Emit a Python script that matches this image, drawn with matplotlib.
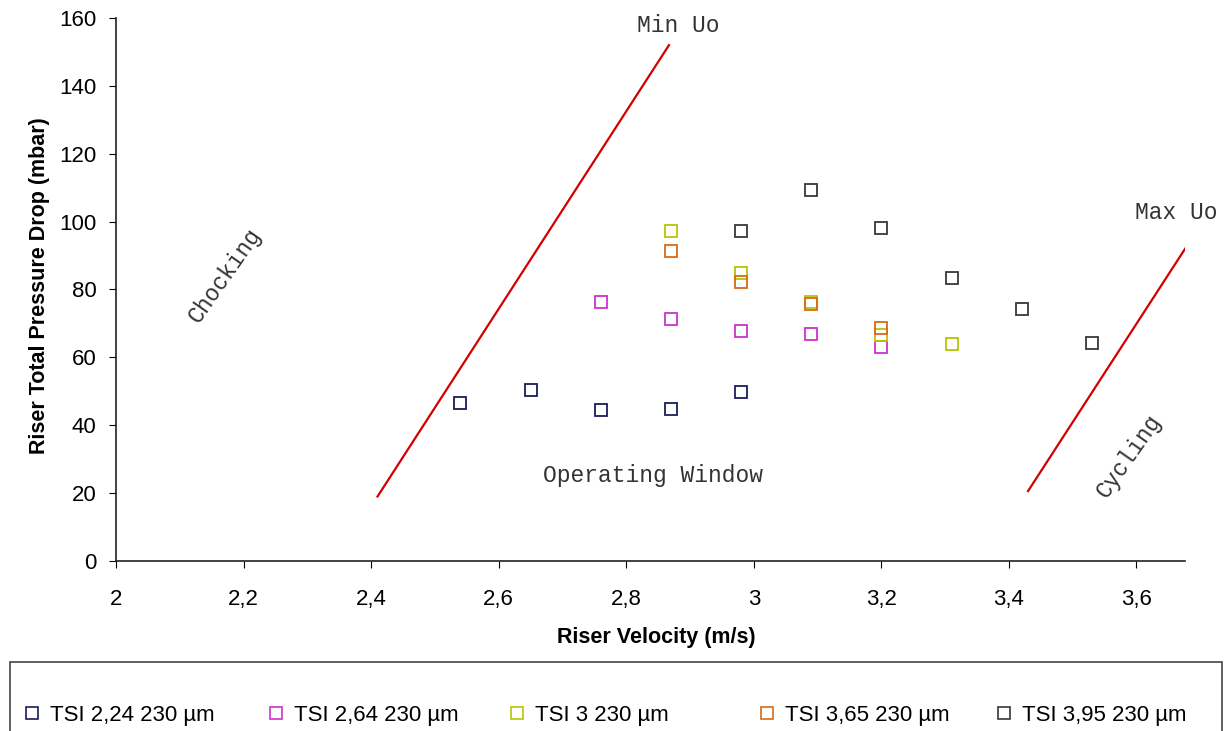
import matplotlib
matplotlib.use("Agg")
import matplotlib.pyplot as plt
from matplotlib.lines import Line2D
from matplotlib.patches import Rectangle

# data
x_224 = [2.54, 2.65, 2.76, 2.87, 2.98]
y_224 = [46.5, 50.5, 44.5, 44.8, 49.7]
x_264 = [2.76, 2.87, 2.98, 3.09, 3.20]
y_264 = [76.2, 71.4, 67.8, 67.0, 63.1]
x_300 = [2.87, 2.98, 3.09, 3.20, 3.31]
y_300 = [97.3, 84.8, 76.4, 66.5, 63.8]
x_365 = [2.87, 2.98, 3.09, 3.20]
y_365 = [91.2, 82.2, 75.8, 68.7]
x_395 = [2.98, 3.09, 3.20, 3.31, 3.42, 3.53]
y_395 = [97.2, 109.4, 98.2, 83.5, 74.3, 64.3]

min_uo_x = [2.41, 2.867]
min_uo_y = [19, 152]
max_uo_x = [3.43, 3.69]
max_uo_y = [20.6, 96]

labels = ["TSI 2,24 230 µm", "TSI 2,64 230 µm", "TSI 3 230 µm",
          "TSI 3,65 230 µm", "TSI 3,95 230 µm"]
colors = ["#1c1c5c", "#cc33cc", "#b4c600", "#d86a1a", "#383838"]

plt.rcParams['font.family'] = ['Liberation Sans', 'DejaVu Sans']

W, H = 1224, 731
fig = plt.figure(figsize=(W / 100, H / 100), dpi=100)
ax = fig.add_axes([0.0948, 0.2326, 0.8733, 0.7428])

series = [(x_224, y_224), (x_264, y_264), (x_300, y_300),
          (x_365, y_365), (x_395, y_395)]
for (xs, ys), c in zip(series, colors):
    ax.plot(xs, ys, linestyle='none', marker='s', markersize=9,
            markerfacecolor='none', markeredgecolor=c, markeredgewidth=1.3)

ax.plot(min_uo_x, min_uo_y, color='#d40000', lw=1.6)
ax.plot(max_uo_x, max_uo_y, color='#d40000', lw=1.6)

mono = ['Liberation Mono', 'DejaVu Sans Mono']
tc = '#333333'
ax.text(2.881, 157.9, "Min Uo", family=mono, fontsize=16.5, ha='center', va='center', color=tc)
ax.text(3.663, 102.8, "Max Uo", family=mono, fontsize=16.5, ha='center', va='center', color=tc, clip_on=False)
ax.text(2.842, 25.3, "Operating Window", family=mono, fontsize=16.5, ha='center', va='center', color=tc)
ax.text(2.171, 84.3, "Chocking", family=mono, fontsize=16.5, ha='center', va='center', rotation=55, color=tc)
ax.text(3.588, 30.9, "Cycling", family=mono, fontsize=16.5, ha='center', va='center', rotation=55, color=tc)

ax.set_xlim(2, 3.676)
ax.set_ylim(0, 160)
ax.set_xticks([2, 2.2, 2.4, 2.6, 2.8, 3, 3.2, 3.4, 3.6])
ax.set_xticklabels(["2", "2,2", "2,4", "2,6", "2,8", "3", "3,2", "3,4", "3,6"])
ax.set_yticks(range(0, 161, 20))
ax.tick_params(axis='x', direction='out', length=5, pad=15, labelsize=16)
ax.tick_params(axis='y', direction='out', length=5, pad=9, labelsize=16)
for s in ['top', 'right']:
    ax.spines[s].set_visible(False)
for s in ['left', 'bottom']:
    ax.spines[s].set_color('#222222')
    ax.spines[s].set_linewidth(1.2)

ax.set_xlabel("Riser Velocity (m/s)", fontsize=15.5, fontweight='bold')
ax.set_ylabel("Riser Total Pressure Drop (mbar)", fontsize=15.5, fontweight='bold')
ax.xaxis.set_label_coords(0.505, -0.122)
ax.yaxis.set_label_coords(-0.062, 0.508)

# legend box along the bottom
fig.patches.append(Rectangle((0.008, -0.02), 0.99, 0.1144, transform=fig.transFigure,
                             fill=False, edgecolor='#444444', lw=1.2))
marker_px = [32, 276, 517, 767, 1004]
for c, lab, mx in zip(colors, labels, marker_px):
    h = Line2D([], [], linestyle='none', marker='s', markersize=9,
               markerfacecolor='none', markeredgecolor=c, markeredgewidth=1.2)
    fig.legend([h], [lab], loc='center left',
               bbox_to_anchor=((mx - 8.9) / W, 1 - 715 / H),
               frameon=False, fontsize=16, handlelength=0.8, borderpad=0,
               borderaxespad=0, handletextpad=0.4)

fig.savefig("out.png", dpi=100)
